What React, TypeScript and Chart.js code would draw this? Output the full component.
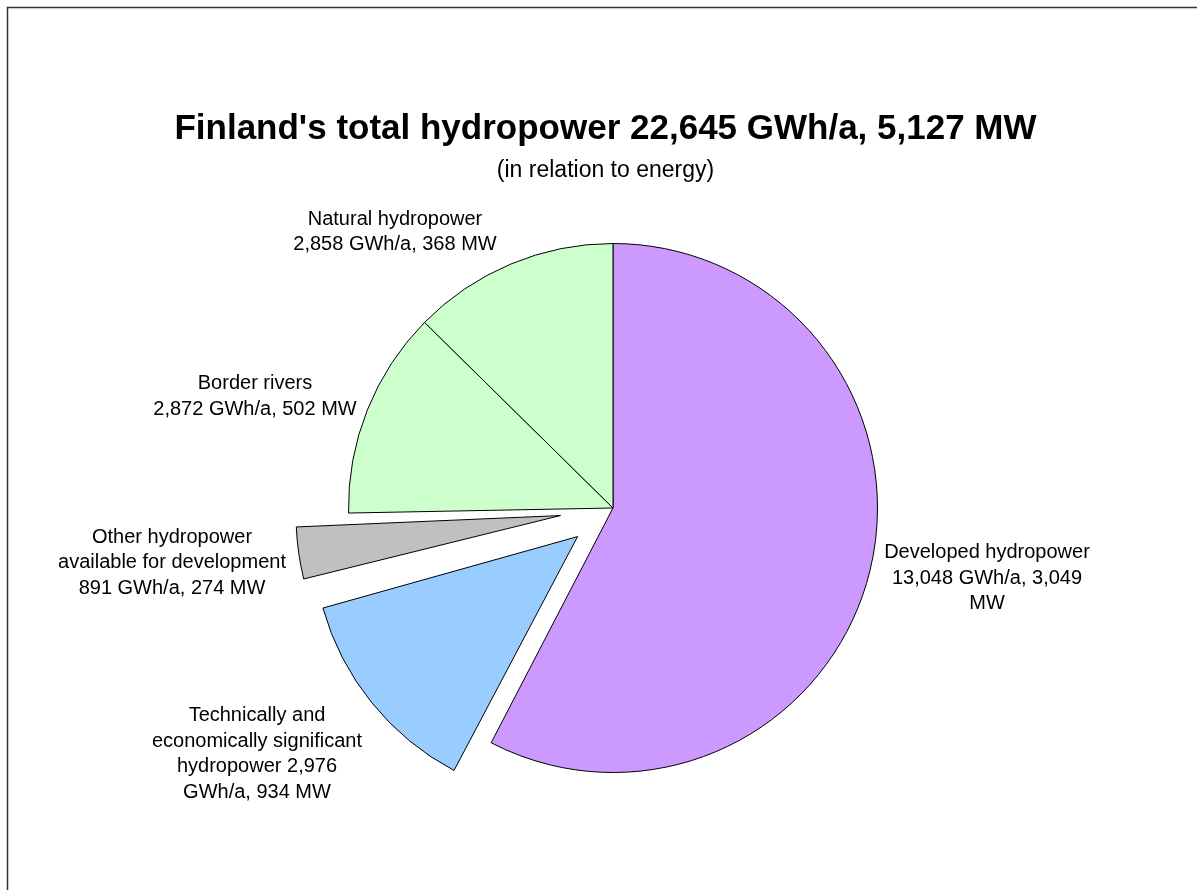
import React, { useEffect, useRef } from "react";
import { Chart, registerables } from "chart.js";

Chart.register(...registerables);

// ---- data ----
const categories = [
  "Developed hydropower",
  "Technically and economically significant hydropower",
  "Other hydropower available for development",
  "Border rivers",
  "Natural hydropower",
];
const energyGWh = [13048, 2976, 891, 2872, 2858];
const capacityMW = [3049, 934, 274, 502, 368];
const sliceColors = ["#CC99FF", "#99CCFF", "#C0C0C0", "#CCFFCC", "#CCFFCC"];
const labelLines = [
  ["Developed hydropower", "13,048 GWh/a, 3,049", "MW"],
  ["Technically and", "economically significant", "hydropower 2,976", "GWh/a, 934 MW"],
  ["Other hydropower", "available for development", "891 GWh/a, 274 MW"],
  ["Border rivers", "2,872 GWh/a, 502 MW"],
  ["Natural hydropower", "2,858 GWh/a, 368 MW"],
];
const titleText = "Finland's total hydropower 22,645 GWh/a, 5,127 MW";
const subtitleText = "(in relation to energy)";

// ---- layout / style ----
const W = 1197;
const H = 890;
const explodeOffset = [0, 182, 212, 0, 0];
const labelAnchors = [
  [987, 558],
  [257, 721],
  [172, 542.5],
  [255, 389],
  [395, 224.5],
];
const LABEL_LINE_H = 25.5;
const FONT = "'Liberation Sans', Arial, sans-serif";

const decorPlugin = {
  id: "decor",
  afterDatasetsUpdate(chart: any) {
    const meta = chart.getDatasetMeta(0);
    meta.data.forEach((arc: any) => {
      const off = (arc.options && arc.options.offset) || 0;
      if (off) {
        const fix = 1 - Math.sin(Math.min(Math.PI, arc.circumference || 0));
        arc.outerRadius = arc.outerRadius - (off / 4) * fix;
      }
    });
  },
  beforeDraw(chart: any) {
    const ctx = chart.ctx;
    ctx.save();
    ctx.fillStyle = "#ffffff";
    ctx.fillRect(0, 0, W, H);
    ctx.strokeStyle = "#333333";
    ctx.lineWidth = 1.5;
    ctx.beginPath();
    ctx.moveTo(7.5, H + 5);
    ctx.lineTo(7.5, 7.5);
    ctx.lineTo(W + 5, 7.5);
    ctx.stroke();
    ctx.restore();
  },
  afterDraw(chart: any) {
    const ctx = chart.ctx;
    ctx.save();
    ctx.fillStyle = "#000000";
    ctx.textAlign = "center";
    ctx.textBaseline = "alphabetic";
    ctx.font = `bold 35px ${FONT}`;
    ctx.fillText(titleText, 605.5, 139);
    ctx.font = `23px ${FONT}`;
    ctx.fillText(subtitleText, 605.5, 177);
    ctx.font = `20px ${FONT}`;
    labelLines.forEach((lines, i) => {
      const [cx, y0] = labelAnchors[i];
      lines.forEach((t, j) => ctx.fillText(t, cx, y0 + j * LABEL_LINE_H));
    });
    ctx.restore();
  },
};

export default function App() {
  const ref = useRef<HTMLCanvasElement | null>(null);
  useEffect(() => {
    if (!ref.current) return;
    const chart = new Chart(ref.current, {
      type: "pie",
      data: {
        labels: categories,
        datasets: [
          {
            data: energyGWh,
            backgroundColor: sliceColors,
            borderColor: "#000000",
            borderWidth: 1,
            offset: explodeOffset,
            hoverOffset: 0,
          } as any,
        ],
      },
      options: {
        responsive: false,
        animation: false,
        events: [],
        radius: 264.5,
        layout: { padding: { left: 29, right: 0, top: 126, bottom: 0 } },
        plugins: {
          legend: { display: false },
          tooltip: { enabled: false },
          title: { display: false },
        },
      } as any,
      plugins: [decorPlugin],
    });
    return () => chart.destroy();
  }, []);
  return (
    <div style={{ position: "absolute", left: 0, top: 0, width: W, height: H }}>
      <canvas ref={ref} width={W} height={H} style={{ width: W, height: H, display: "block" }} data-mw={capacityMW.join(",")} />
    </div>
  );
}
